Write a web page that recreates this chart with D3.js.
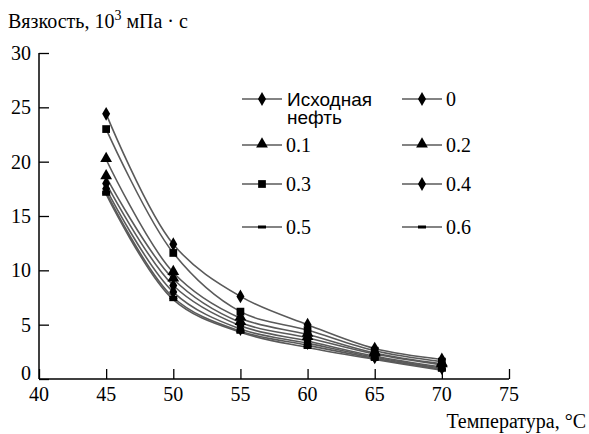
<!DOCTYPE html>
<html lang="ru">
<head>
<meta charset="UTF-8">
<title>Вязкость</title>
<script src="https://d3js.org/d3.v7.min.js"></script>
<style>
  body { margin: 0; background: #fff; }
</style>
</head>
<body>
<svg width="589" height="434"></svg>
<script>
// temperatures, °C
var temps = [45, 50, 55, 60, 65, 70];
var xTicks = [40, 45, 50, 55, 60, 65, 70, 75];
var yTicks = [0, 5, 10, 15, 20, 25, 30];

// viscosity, 10^3 mPa*s
var sIsh = [24.4, 12.4, 7.6, 5.0, 2.8, 1.8];
var s0   = [18.0, 8.6, 4.9, 3.5, 2.1, 1.1];
var s01  = [20.2, 9.8, 5.6, 4.1, 2.4, 1.4];
var s02  = [18.6, 9.2, 5.2, 3.8, 2.3, 1.3];
var s03  = [23.0, 11.6, 6.2, 4.5, 2.6, 1.6];
var s04  = [17.5, 8.0, 4.6, 3.3, 2.0, 1.0];
var s05  = [17.2, 7.5, 4.4, 3.1, 1.9, 0.9];
var s06  = [17.0, 7.3, 4.3, 2.9, 1.8, 0.8];

var series = [
  {name: "Исходная нефть", values: sIsh, mark: "diamond"},
  {name: "0", values: s0, mark: "diamond"},
  {name: "0.1", values: s01, mark: "triangle"},
  {name: "0.2", values: s02, mark: "triangle"},
  {name: "0.3", values: s03, mark: "square"},
  {name: "0.4", values: s04, mark: "diamond"},
  {name: "0.5", values: s05, mark: "dash"},
  {name: "0.6", values: s06, mark: "dash"}
];

var svg = d3.select("svg");
var x = d3.scaleLinear().domain([40, 75]).range([39, 509]);
var y = d3.scaleLinear().domain([0, 30]).range([379, 53]);

// axes: ticks point inward
svg.append("g").attr("transform", "translate(0," + y(0) + ")")
  .call(d3.axisTop(x).tickValues(xTicks).tickSize(10).tickFormat(""));
svg.append("g").attr("transform", "translate(" + x(40) + ",0)")
  .call(d3.axisRight(y).tickValues(yTicks).tickSize(10).tickFormat(""));
svg.selectAll(".domain").remove();
svg.selectAll(".tick line").attr("stroke", "#000").attr("stroke-width", 1.3);

svg.append("line").attr("x1", x(40)).attr("x2", x(75)).attr("y1", y(0)).attr("y2", y(0))
  .attr("stroke", "#000").attr("stroke-width", 1.5);
svg.append("line").attr("x1", x(40)).attr("x2", x(40)).attr("y1", y(0)).attr("y2", y(30))
  .attr("stroke", "#000").attr("stroke-width", 1.5);

// tick labels
svg.selectAll(".xl").data(xTicks).enter().append("text")
  .attr("x", function(d) { return x(d); }).attr("y", 401)
  .attr("text-anchor", "middle").attr("font-size", "20px")
  .text(function(d) { return d; });
svg.selectAll(".yl").data(yTicks).enter().append("text")
  .attr("x", 31).attr("y", function(d) { return d === 0 ? y(d) + 1 : y(d) + 7; })
  .attr("text-anchor", "end").attr("font-size", "20px")
  .text(function(d) { return d; });

// titles
var t = svg.append("text").attr("x", 8).attr("y", 28).attr("font-size", "20px");
t.append("tspan").text("Вязкость, 10");
t.append("tspan").attr("dy", -8).attr("font-size", "14px").text("3");
t.append("tspan").attr("dy", 8).text(" мПа · с");
svg.append("text").attr("x", 586).attr("y", 428).attr("text-anchor", "end")
  .attr("font-size", "20px").text("Температура, °C");

// markers
function drawMark(g, type, cx, cy) {
  if (type === "diamond") {
    g.append("path").attr("d", d3.symbol().type(d3.symbolDiamond).size(55)())
      .attr("transform", "translate(" + cx + "," + cy + ")").attr("fill", "#000");
  } else if (type === "triangle") {
    g.append("path").attr("d", d3.symbol().type(d3.symbolTriangle).size(60)())
      .attr("transform", "translate(" + cx + "," + (cy - 1) + ")").attr("fill", "#000");
  } else if (type === "square") {
    g.append("path").attr("d", d3.symbol().type(d3.symbolSquare).size(60)())
      .attr("transform", "translate(" + cx + "," + cy + ")").attr("fill", "#000");
  } else {
    g.append("rect").attr("x", cx - 4).attr("y", cy - 1.5).attr("width", 8).attr("height", 3)
      .attr("fill", "#000");
  }
}

var line = d3.line().curve(d3.curveCatmullRom.alpha(0.5))
  .x(function(d, i) { return x(temps[i]); })
  .y(function(d) { return y(d); });

series.forEach(function(s) {
  svg.append("path").datum(s.values).attr("d", line)
    .attr("fill", "none").attr("stroke", "#5a5a5a").attr("stroke-width", 1.6);
});
series.forEach(function(s) {
  var g = svg.append("g");
  s.values.forEach(function(v, i) { drawMark(g, s.mark, x(temps[i]), y(v)); });
});

svg.selectAll("text").style("font-family", "'Liberation Serif'").attr("fill", "#000");

// legend
var legPos = [
  [242, 99], [402, 99],
  [242, 145], [402, 145],
  [242, 184], [402, 184],
  [242, 227], [402, 227]
];
series.forEach(function(s, i) {
  var p = legPos[i];
  var g = svg.append("g");
  g.append("line").attr("x1", p[0]).attr("x2", p[0] + 40).attr("y1", p[1]).attr("y2", p[1])
    .attr("stroke", "#5a5a5a").attr("stroke-width", 1.6);
  drawMark(g, s.mark, p[0] + 20, p[1]);
  if (i === 0) {
    // first entry is set in a sans face in the original
    var words = s.name.split(" ");
    words.forEach(function(w, k) {
      g.append("text").attr("x", p[0] + 45).attr("y", p[1] + 7 + k * 18)
        .attr("font-size", "19px").style("font-family", "'Liberation Sans'")
        .attr("fill", "#000").text(w);
    });
  } else {
    g.append("text").attr("x", p[0] + 44).attr("y", p[1] + 7)
      .attr("font-size", "20px").style("font-family", "'Liberation Serif'")
      .attr("fill", "#000").text(s.name);
  }
});
</script>
</body>
</html>
